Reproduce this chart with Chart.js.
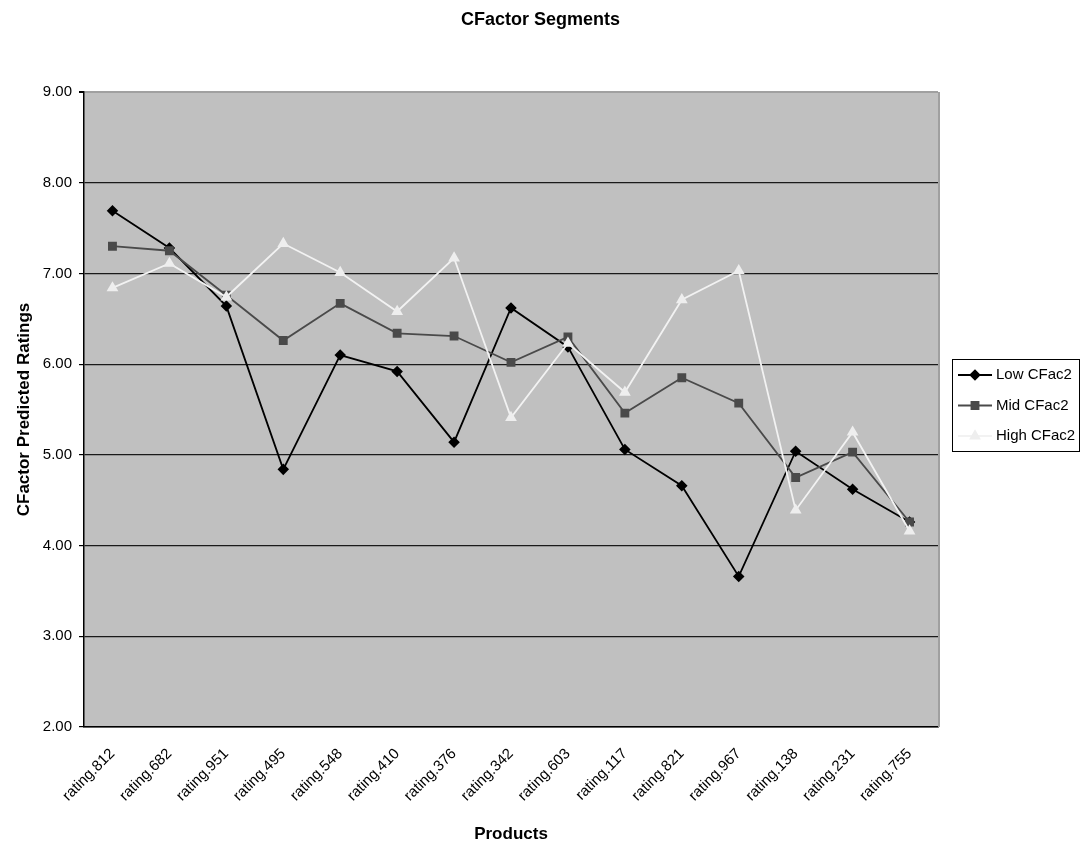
<!DOCTYPE html>
<html>
<head>
<meta charset="utf-8">
<script src="https://cdn.jsdelivr.net/npm/chart.js@4/dist/chart.umd.min.js"></script>
<style>
  body{margin:0;background:#fff;}
  #wrap{width:1081px;height:850px;}
</style>
</head>
<body>
<div id="wrap"><canvas id="chart" width="1081" height="850"></canvas></div>
<script>
// ------------------ DATA ------------------
const products = ['rating.812','rating.682','rating.951','rating.495','rating.548','rating.410','rating.376','rating.342','rating.603','rating.117','rating.821','rating.967','rating.138','rating.231','rating.755'];
const lowCFac2  = [7.69,7.28,6.64,4.84,6.10,5.92,5.14,6.62,6.19,5.06,4.66,3.66,5.04,4.62,4.26];
const midCFac2  = [7.30,7.25,6.76,6.26,6.67,6.34,6.31,6.02,6.30,5.46,5.85,5.57,4.75,5.03,4.26];
const highCFac2 = [6.84,7.11,6.74,7.33,7.01,6.58,7.17,5.41,6.23,5.69,6.71,7.03,4.39,5.25,4.16];
const yTicks = [2,3,4,5,6,7,8,9];

const FONT = '"Liberation Sans", Arial, sans-serif';

// grey plot background + right border
const plotBg = {
  id:'plotBg',
  beforeDraw(chart){
    const {ctx, chartArea:a} = chart;
    ctx.save();
    ctx.fillStyle = '#c0c0c0';
    ctx.fillRect(a.left, a.top, a.right-a.left, a.bottom-a.top);
    ctx.restore();
  },
  afterDraw(chart){
    const {ctx, chartArea:a} = chart;
    ctx.save();
    ctx.strokeStyle = '#a0a0a0';
    ctx.lineWidth = 2;
    ctx.beginPath();
    ctx.moveTo(a.right+1, a.top);
    ctx.lineTo(a.right+1, a.bottom);
    ctx.stroke();
    ctx.restore();
  }
};

// legend box on the right, line + marker like the original
const boxLegend = {
  id:'boxLegend',
  afterDraw(chart){
    const ctx = chart.ctx;
    const x0 = 952.5, y0 = 359.5, w = 127, h = 92;
    ctx.save();
    ctx.fillStyle = '#fff';
    ctx.fillRect(x0, y0, w, h);
    ctx.strokeStyle = '#000';
    ctx.lineWidth = 1;
    ctx.strokeRect(x0, y0, w, h);
    chart.data.datasets.forEach((ds, i) => {
      const y = 375 + i*30.5;
      ctx.strokeStyle = ds.borderColor;
      ctx.lineWidth = ds.borderWidth;
      ctx.beginPath();
      ctx.moveTo(958, y);
      ctx.lineTo(992, y);
      ctx.stroke();
      ctx.fillStyle = ds.pointBackgroundColor;
      ctx.strokeStyle = ds.pointBorderColor;
      Chart.helpers.drawPoint(ctx, {pointStyle: ds.pointStyle, radius: ds.pointRadius, rotation: 0, borderWidth: 1}, 975, y);
      ctx.fillStyle = '#000';
      ctx.font = '15px ' + FONT;
      ctx.textAlign = 'left';
      ctx.textBaseline = 'middle';
      ctx.fillText(ds.label, 996, y);
    });
    ctx.restore();
  }
};

const ctx = document.getElementById('chart').getContext('2d');
const chart = new Chart(ctx, {
  type:'line',
  data:{
    labels: products,
    datasets:[
      { label:'Low CFac2', data: lowCFac2, borderColor:'#000000', borderWidth:1.8,
        pointStyle:'rectRot', pointRadius:4.5, pointBackgroundColor:'#000000', pointBorderColor:'#000000', order:2 },
      { label:'Mid CFac2', data: midCFac2, borderColor:'#4a4a4a', borderWidth:1.8,
        pointStyle:'rect', pointRadius:5, pointBackgroundColor:'#4a4a4a', pointBorderColor:'#4a4a4a', order:1 },
      { label:'High CFac2', data: highCFac2, borderColor:'#f2f2f2', borderWidth:1.8,
        pointStyle:'triangle', pointRadius:5, pointBackgroundColor:'#eeeeee', pointBorderColor:'#eeeeee', order:0 }
    ]
  },
  options:{
    responsive:false,
    animation:false,
    layout:{ padding:0 },
    plugins:{
      legend:{ display:false },
      tooltip:{ enabled:false },
      title:{
        display:true, text:'CFactor Segments', color:'#000',
        font:{ family:FONT, size:18, weight:'bold' },
        padding:{ top:9, bottom:61.4 }
      }
    },
    scales:{
      x:{
        offset:true,
        grid:{ display:false, drawTicks:false },
        border:{ display:true, color:'#000', width:1.5 },
        ticks:{ color:'#000', font:{ family:FONT, size:15 }, minRotation:45, maxRotation:45, padding:18, autoSkip:false },
        title:{ display:true, text:'Products', color:'#000', font:{ family:FONT, size:17, weight:'bold' }, padding:{ top:4, bottom:5 } },
        afterFit(scale){ scale.height = 123; }
      },
      y:{
        min:2, max:9,
        afterBuildTicks(scale){ scale.ticks = yTicks.map(v => ({ value:v })); },
        grid:{
          color: c => (c.tick && c.tick.value === 9) ? '#a0a0a0' : '#1a1a1a',
          lineWidth: c => (c.tick && c.tick.value === 9) ? 2 : 1.2,
          tickColor:'#000', tickLength:5, drawTicks:true
        },
        border:{ display:true, color:'#000', width:1.5 },
        ticks:{ color:'#000', font:{ family:FONT, size:15 }, padding:7, callback: v => Number(v).toFixed(2) },
        title:{ display:true, text:'CFactor Predicted Ratings', color:'#000', font:{ family:FONT, size:17, weight:'bold' }, padding:{ top:14, bottom:0 } },
        afterFit(scale){ scale.width = 84; }
      },
      // empty right-hand axis: only reserves the space where the legend sits
      yRight:{
        position:'right',
        min:2, max:9,
        grid:{ display:false, drawTicks:false },
        border:{ display:false },
        ticks:{ display:false },
        afterFit(scale){ scale.width = 143; }
      }
    }
  },
  plugins:[plotBg, boxLegend]
});
</script>
</body>
</html>
